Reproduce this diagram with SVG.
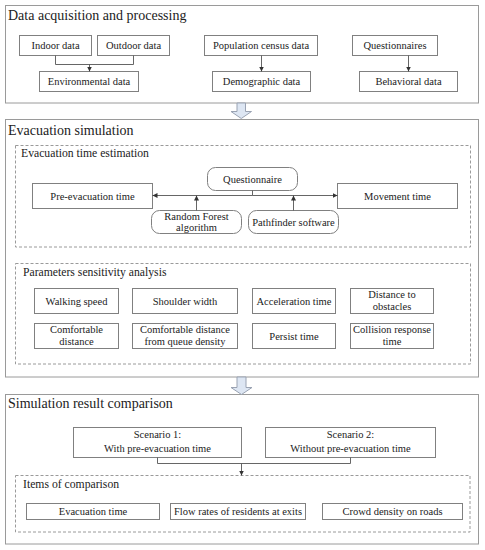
<svg xmlns="http://www.w3.org/2000/svg" width="485" height="550" viewBox="0 0 485 550">
<defs>
<marker id="ah" markerWidth="6" markerHeight="6" refX="5" refY="3" orient="auto" markerUnits="userSpaceOnUse">
<path d="M0,0.5 L5,3 L0,5.5 Z" fill="#333"/>
</marker>
<style>
text{font-family:"Liberation Serif","Times New Roman",serif;fill:#222;}
.title{font-size:14px;}
.sub{font-size:11.7px;}
.t{font-size:10.5px;text-anchor:middle;}
.frame{fill:#fff;stroke:#9a9a9a;stroke-width:1;}
.dash{fill:none;stroke:#9a9a9a;stroke-width:1;stroke-dasharray:3,2;}
.box{fill:#fff;stroke:#808080;stroke-width:1;}
.conn{fill:none;stroke:#555;stroke-width:0.9;}
.big{fill:#dde6f3;stroke:#9aa3b3;stroke-width:1;}
</style>
</defs>
<rect width="485" height="550" fill="#fff"/>

<g id="sec1">
<rect class="frame" x="5.5" y="5.5" width="473" height="97.5"/>
<text class="title" x="8" y="20">Data acquisition and processing</text>
</g>
<g id="sec2">
<rect class="frame" x="5.5" y="119.5" width="473" height="257.5"/>
<text class="title" x="8" y="135">Evacuation simulation</text>
</g>
<g id="sec3">
<rect class="frame" x="5.5" y="394.5" width="473" height="149.5"/>
<text class="title" x="8" y="408">Simulation result comparison</text>
</g>

<g id="big-arrows">
<path class="big" d="M237,103 H245.5 V111.5 H251.5 L241.25,118.5 L231,111.5 H237 Z"/>
<path class="big" d="M237,377 H246 V387.5 H252 L241.5,394.5 L231,387.5 H237 Z"/>
</g>

<g id="n-indoor"><rect class="box" x="19.5" y="35.5" width="72" height="20"/><text class="t" x="55.5" y="49">Indoor data</text></g>
<g id="n-outdoor"><rect class="box" x="97.5" y="35.5" width="72" height="20"/><text class="t" x="133.5" y="49">Outdoor data</text></g>
<g id="n-env"><rect class="box" x="39.5" y="71.5" width="99" height="20"/><text class="t" x="89" y="85">Environmental data</text></g>
<g id="n-pop"><rect class="box" x="204.5" y="35.5" width="113" height="20"/><text class="t" x="261" y="49">Population census data</text></g>
<g id="n-demo"><rect class="box" x="212.5" y="71.5" width="98" height="20"/><text class="t" x="261.5" y="85">Demographic data</text></g>
<g id="n-quest"><rect class="box" x="352.5" y="35.5" width="85" height="20"/><text class="t" x="395" y="49">Questionnaires</text></g>
<g id="n-behav"><rect class="box" x="359.5" y="71.5" width="98" height="20"/><text class="t" x="408.5" y="85">Behavioral data</text></g>

<g id="g-ete">
<rect class="dash" x="15.5" y="145.5" width="455" height="101.5"/>
<text class="sub" x="21" y="157">Evacuation time estimation</text>
</g>
<g id="n-pre"><rect class="box" x="32.5" y="183.5" width="120" height="25"/><text class="t" x="92.5" y="199.5">Pre-evacuation time</text></g>
<g id="n-move"><rect class="box" x="337.5" y="183.5" width="120" height="25"/><text class="t" x="397.5" y="199.5">Movement time</text></g>
<g id="n-questionnaire"><rect class="box" x="207.5" y="167.5" width="90" height="23" rx="8"/><text class="t" x="252.5" y="182.5">Questionnaire</text></g>
<g id="n-rf"><rect class="box" x="151.5" y="210.5" width="90" height="23" rx="8"/><text class="t" x="196.5" y="219.5">Random Forest</text><text class="t" x="196.5" y="231">algorithm</text></g>
<g id="n-path"><rect class="box" x="248.5" y="210.5" width="90" height="23" rx="8"/><text class="t" x="293.5" y="225.5">Pathfinder software</text></g>

<g id="g-psa">
<rect class="dash" x="15.5" y="263.5" width="455" height="100.5"/>
<text class="sub" x="23" y="276">Parameters sensitivity analysis</text>
</g>
<g id="n-walk"><rect class="box" x="34.5" y="288.5" width="84" height="25"/><text class="t" x="76.5" y="304.5">Walking speed</text></g>
<g id="n-shoulder"><rect class="box" x="132.5" y="288.5" width="105" height="25"/><text class="t" x="185" y="304.5">Shoulder width</text></g>
<g id="n-accel"><rect class="box" x="252.5" y="288.5" width="83" height="25"/><text class="t" x="294" y="304.5">Acceleration time</text></g>
<g id="n-dist"><rect class="box" x="350.5" y="288.5" width="83" height="25"/><text class="t" x="392" y="298">Distance to</text><text class="t" x="392" y="309.5">obstacles</text></g>
<g id="n-comf"><rect class="box" x="34.5" y="323.5" width="84" height="25"/><text class="t" x="76.5" y="333">Comfortable</text><text class="t" x="76.5" y="344.5">distance</text></g>
<g id="n-comfq"><rect class="box" x="132.5" y="323.5" width="105" height="25"/><text class="t" x="185" y="333">Comfortable distance</text><text class="t" x="185" y="344.5">from queue density</text></g>
<g id="n-persist"><rect class="box" x="252.5" y="323.5" width="83" height="25"/><text class="t" x="294" y="339.5">Persist time</text></g>
<g id="n-coll"><rect class="box" x="350.5" y="323.5" width="83" height="25"/><text class="t" x="392" y="333">Collision response</text><text class="t" x="392" y="344.5">time</text></g>

<g id="n-s1"><rect class="box" x="73.5" y="427.5" width="168" height="30"/><text class="t" x="157.5" y="438">Scenario 1:</text><text class="t" x="157.5" y="451.5">With pre-evacuation time</text></g>
<g id="n-s2"><rect class="box" x="265.5" y="427.5" width="170" height="30"/><text class="t" x="350.5" y="438">Scenario 2:</text><text class="t" x="350.5" y="451.5">Without pre-evacuation time</text></g>

<g id="g-items">
<rect class="dash" x="15.5" y="475.5" width="454.5" height="56.5"/>
<text class="sub" x="23" y="488">Items of comparison</text>
</g>
<g id="n-evac"><rect class="box" x="26.5" y="503.5" width="133" height="16"/><text class="t" x="93" y="515">Evacuation time</text></g>
<g id="n-flow"><rect class="box" x="170.5" y="503.5" width="135" height="16"/><text class="t" x="238" y="515">Flow rates of residents at exits</text></g>
<g id="n-crowd"><rect class="box" x="322.5" y="503.5" width="140" height="16"/><text class="t" x="392.5" y="515">Crowd density on roads</text></g>

<g id="connectors">
<path class="conn" d="M55.5,55.5 V64.5 H133.5 V55.5"/>
<path class="conn" d="M89.5,64.5 V71.5" marker-end="url(#ah)"/>
<path class="conn" d="M261.5,55.5 V71.5" marker-end="url(#ah)"/>
<path class="conn" d="M408.5,55.5 V71.5" marker-end="url(#ah)"/>
<path class="conn" d="M252.5,190.5 V195.5"/>
<path class="conn" d="M252.5,195.5 H152.5" marker-end="url(#ah)"/>
<path class="conn" d="M252.5,195.5 H337.5" marker-end="url(#ah)"/>
<path class="conn" d="M196.5,210.5 V195.5" marker-end="url(#ah)"/>
<path class="conn" d="M293.5,210.5 V195.5" marker-end="url(#ah)"/>
<path class="conn" d="M157.5,457.5 V463.5 H350.5 V457.5"/>
<path class="conn" d="M241.5,463.5 V475.5" marker-end="url(#ah)"/>
</g>
</svg>
